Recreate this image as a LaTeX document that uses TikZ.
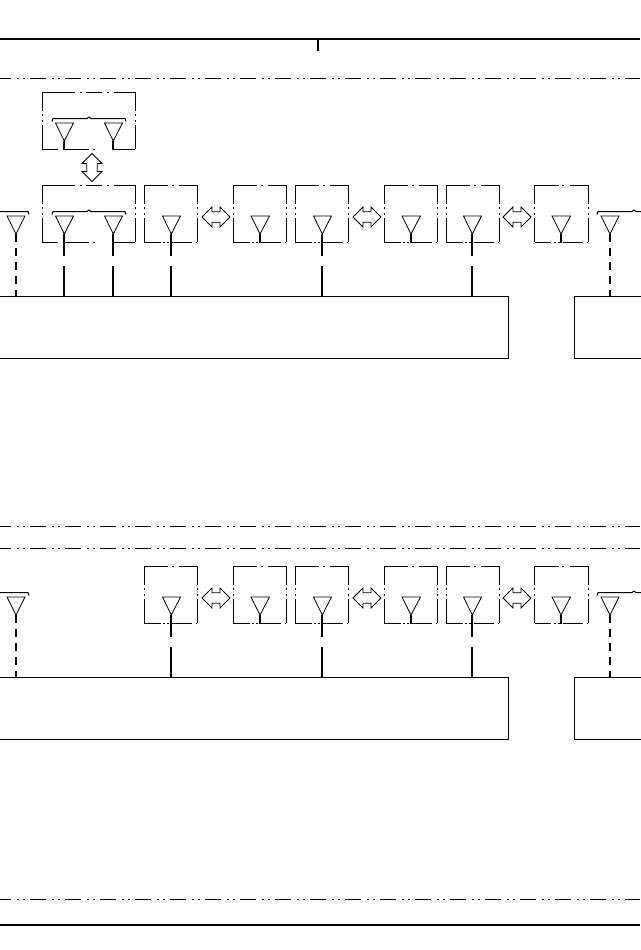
\documentclass[tikz,border=0pt]{standalone}
\usepackage{xcolor}
\usetikzlibrary{positioning,shapes}
\definecolor{ink}{HTML}{000000}
\tikzset{
  dashdot/.style={ink,line width=0.75pt,dash pattern=on 12pt off 4.25pt on 1.5pt off 3pt on 1.5pt off 4pt},
  topside/.style={ink,line width=0.75pt,dash pattern=on 18pt off 2.75pt on 1.5pt off 4pt on 13.5pt off 40pt},
  botside/.style={ink,line width=0.75pt,dash pattern=on 12.5pt off 1.75pt on 1.5pt off 1.5pt on 1.5pt off 2.25pt on 15pt off 3pt on 0.75pt off 40pt},
  upside/.style={ink,line width=0.75pt,dash pattern=on 14.25pt off 2pt on 1.5pt off 3pt on 1.5pt off 2.5pt on 18pt off 40pt},
  widetop/.style={ink,line width=0.75pt,dash pattern=on 24.4pt off 4.1pt on 1.5pt off 3pt on 12pt off 3.4pt on 1.5pt off 3.75pt on 15.75pt off 40pt},
  widebot/.style={ink,line width=0.75pt,dash pattern=on 12pt off 4.5pt on 18.75pt off 3pt on 1.5pt off 13.5pt on 16.5pt off 40pt},
  unitbox/.style={rectangle,inner sep=0pt,minimum width=39.75pt,minimum height=42.75pt},
  wideunit/.style={rectangle,inner sep=0pt,minimum width=69.75pt,minimum height=42.75pt},
  rackbox/.style={draw=ink,rectangle,line width=0.75pt,inner sep=0pt,minimum height=46.5pt},
  swaparrow/.style={draw=ink,fill=white,double arrow,line width=0.6pt,inner xsep=0pt,inner ysep=3.6pt,
    minimum width=14.25pt,minimum height=21pt,double arrow head extend=3.6pt},
  feed/.style={ink,line width=1.5pt},
  feeddash/.style={ink,line width=1.5pt,dash pattern=on 6pt off 4.5pt},
  antenna/.style={ink,line width=0.6pt},
  bracket/.style={ink,line width=0.75pt},
  rail/.style={ink,line width=1.5pt}
}
\begin{document}
\begin{tikzpicture}[x=0.75pt,y=-0.75pt]
  \useasboundingbox (0,0) rectangle (640,950);
  % outer frame
  \draw[rail] (0,39) -- (640,39);
  \coordinate (railtap) at (318,39);
  \draw[rail] (railtap) -- ++(0,12);
  \draw[rail] (0,925) -- (640,925);
  \foreach \yy in {78.5,526.5,548.5,899.5} {
    \draw[dashdot,dash phase=3.75pt] (0,\yy) -- (640,\yy);
  }
  % extra tier and the pair below it
  \node[wideunit] (tierbox) at (89,121) {};
  \node[wideunit] (pairbox) at (89,214) {};
  \foreach \b in {tierbox,pairbox} {
    \draw[widetop] (\b.north west) -- (\b.north east);
    \draw[widebot] (\b.south west) -- (\b.south east);
    \draw[upside] (\b.north west) -- (\b.south west);
    \draw[upside] (\b.north east) -- (\b.south east);
  }
  \foreach \x in {64,113} {
    \draw[antenna] (\x-8.5,123) -- (\x+9.5,123) -- (\x+0.3,141) -- cycle;
    \coordinate (tip\x) at (\x,141);
    \draw[feed] (tip\x) -- (tip\x |- tierbox.south);
  }
  \node[swaparrow,inner xsep=3.6pt,inner ysep=0pt,shape border rotate=90] (tierswap) at (92,167.5) {};
  % ties over the antennas
  \foreach \xa/\xm/\xb/\yy in {52/89/126/118.5,52/89/126/211.5,-44/-7/29/211.5,597/634/671/211.5,-44/-7/29/592.5,597/634/671/592.5} {
    \draw[bracket] (\xa,\yy+3) -- (\xa+1,\yy) -- (\xm-2,\yy) -- (\xm,\yy-1.5) -- (\xm+2,\yy) -- (\xb-1,\yy) -- (\xb,\yy+3);
  }
  % the two rows
  \foreach \row/\dy in {A/0,B/381} {
    \begin{scope}[shift={(0,\dy)}]
      \node[rackbox,minimum width=396pt] (rack\row) at (244,327) {};
      \node[rackbox,minimum width=64.5pt] (side\row) at (617,327) {};
      \node[unitbox] (boxa\row) at (171,214) {};
      \node[unitbox] (boxb\row) at (260,214) {};
      \node[unitbox] (boxc\row) at (322,214) {};
      \node[unitbox] (boxd\row) at (411,214) {};
      \node[unitbox] (boxe\row) at (473,214) {};
      \node[unitbox] (boxf\row) at (561.5,214) {};
      \foreach \b in {a,b,c,d,e,f} {
        \draw[topside] (box\b\row.north west) -- (box\b\row.north east);
        \draw[botside] (box\b\row.south west) -- (box\b\row.south east);
        \draw[upside] (box\b\row.north west) -- (box\b\row.south west);
        \draw[upside] (box\b\row.north east) -- (box\b\row.south east);
      }
      \node[swaparrow] (swapa\row) at (216,217) {};
      \node[swaparrow] (swapb\row) at (367,217) {};
      \node[swaparrow] (swapc\row) at (517,217) {};
      % driven antennas
      \foreach \x in {171,322,472} {
        \draw[antenna] (\x-8.5,216) -- (\x+9.5,216) -- (\x+0.3,234) -- cycle;
        \coordinate (tip\x) at (\x,234);
        \coordinate (stop\x) at (\x,256);
        \coordinate (go\x) at (\x,266);
        \draw[feed] (tip\x) -- (stop\x);
        \draw[feed] (go\x) -- (go\x |- rack\row.north);
      }
      % idle antennas
      \foreach \x in {260,411,561} {
        \draw[antenna] (\x-9,216) -- (\x+9.5,216) -- (\x,234) -- cycle;
        \coordinate (tip\x) at (\x,234);
        \draw[feed] (tip\x) -- (\x,243);
      }
      % outer antennas
      \foreach \x/\target in {16/rack,610/side} {
        \draw[antenna] (\x-9,216) -- (\x+9,216) -- (\x,234) -- cycle;
        \coordinate (tip\x) at (\x,234);
        \draw[feeddash] (tip\x) -- (tip\x |- \target\row.north);
      }
    \end{scope}
  }
  % pair in the upper row
  \foreach \x in {64,113} {
    \draw[antenna] (\x-8.5,216) -- (\x+9.5,216) -- (\x+0.3,234) -- cycle;
    \coordinate (tip\x) at (\x,234);
    \coordinate (stop\x) at (\x,256);
    \coordinate (go\x) at (\x,266);
    \draw[feed] (tip\x) -- (stop\x);
    \draw[feed] (go\x) -- (go\x |- rackA.north);
  }
\end{tikzpicture}
\end{document}
